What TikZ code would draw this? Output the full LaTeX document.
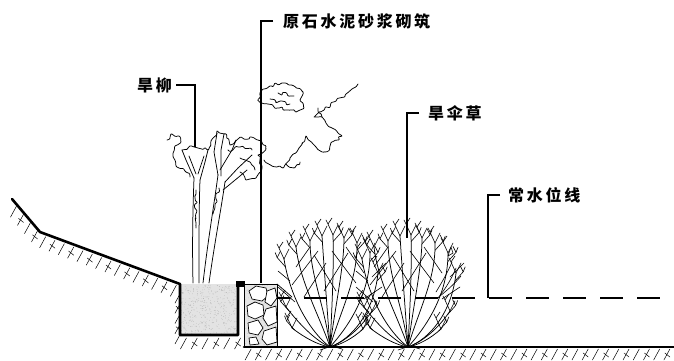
\documentclass[tikz,border=0pt]{standalone}
\usepackage{fontspec}
\newfontfamily\cjk[LetterSpace=17]{Noto Sans CJK SC}
\usetikzlibrary{calc,decorations.pathmorphing}

% short strokes of the earth symbol along a ground edge
\newcommand\earthband[3]{%
  \foreach \i in {1,...,#3}{%
    \pgfmathsetmacro\hf{(\i-0.5)/#3}%
    \coordinate (hp) at ($(#1)!\hf!(#2)$);%
    \draw[hatch] ($(hp)+(1,3)$) -- ++(-6,11);%
    \ifodd\i\relax\else\draw[hatch] ($(hp)+(-4,7)$) -- ++(5,4);\fi
  }}

% one tuft of umbrella sedge, rooted at #1
\newcommand\sedgeclump[1]{%
  \begin{scope}[shift={(#1)}]
    \foreach \ax/\ay/\bx/\by/\ex/\ey in {
      -12/-2/-25/-9/-38/-19,
      -14/-6/-30/-22/-44/-40,
      -20/-15/-40/-50/-46/-88,
      -10/-30/-30/-65/-34/-100,
      -5/-40/-20/-72/-20/-106,
      -3/-40/-6/-80/-8/-111,
      2/-40/4/-80/3/-112,
      5/-40/14/-80/14/-109,
      10/-35/28/-68/27/-104,
      18/-20/40/-52/40/-94,
      22/-8/44/-35/48/-74,
      14/-5/30/-18/42/-36,
      10/-2/22/-8/33/-18}{
      \pgfmathsetmacro\sg{ifthenelse(\ex<0,-1,1)}
      \draw[stem] (0,0) .. controls (\ax,\ay) and (\bx,\by) .. (\ex,\ey);
      \draw[twig] (\ex,\ey) -- ++(-5,-11) -- ++(-2,-4);
      \draw[twig] (\ex,\ey) -- ++(5,-10);
      \draw[twig] ($(\ex,\ey)+(-5,-11)$) -- ++(4,-6);
      \draw[twig] ($(\ex,\ey)!0.2!(\bx,\by)$) -- ++(8*\sg,-9) -- ++(2*\sg,-5);
      \draw[twig] ($(\ex,\ey)!0.2!(\bx,\by)+(8*\sg,-9)$) -- ++(-3*\sg,-6);
    }
    \draw[twig] (-38,-62) -- (-12,-96);
    \draw[twig] (-26,-50) -- (-4,-84);
    \draw[twig] (6,-56) -- (-16,-92);
    \draw[twig] (-6,-56) -- (18,-94);
    \draw[twig] (26,-64) -- (2,-96);
    \draw[twig] (34,-74) -- (16,-100);
    \draw[twig] (-34,-80) -- (-20,-100);
    \draw[twig] (-35,-45) -- (-52,-60);
    \draw[twig] (-40,-66) -- (-52,-76);
    \draw[twig] (34,-48) -- (52,-60);
    \draw[twig] (42,-70) -- (56,-84);
    \draw[twig] (-2,-2) -- (12,2);
    \draw[twig] (2,-1) -- (-10,3);
  \end{scope}}

\begin{document}
\begin{tikzpicture}[x=1pt,y=-1pt,line join=round,line cap=round,
  ground/.style={line width=2.6pt},
  hatch/.style={line width=0.5pt},
  thinline/.style={line width=0.7pt},
  leader/.style={line width=1.4pt,line cap=butt,line join=miter},
  waterline/.style={line width=1.9pt,line cap=butt,dash pattern=on 23pt off 14pt,dash phase=11pt},
  lbl/.style={font=\cjk\bfseries\fontsize{16}{16}\selectfont,anchor=west,inner sep=0pt},
  stem/.style={line width=0.75pt},
  twig/.style={line width=0.6pt},
  leafy/.style={line width=0.75pt,rounded corners=0.8pt,decorate,
    decoration={random steps,segment length=3pt,amplitude=2pt}},
]
\useasboundingbox (0,0) rectangle (674,360);
\pgfmathsetseed{4}

% planting pit with soil
\fill[gray!22] (180,284) rectangle (238,335);
\foreach \k in {1,...,420}
  \fill[gray!65] ({181+56*rnd},{285+49*rnd}) circle (0.33pt);

% rubble stone wall laid in cement mortar
\fill[gray!20] (245,284) rectangle (277,346);
\foreach \k in {1,...,160}
  \fill[gray!60] ({245+32*rnd},{284+62*rnd}) circle (0.33pt);
\begin{scope}[thinline,fill=white]
  \filldraw (249,291) -- (256,286) -- (266,288) -- (268,296) -- (262,301) -- (252,299) -- cycle;
  \filldraw (267,291) -- (275,288) -- (277,298) -- (271,306) -- (265,302) -- cycle;
  \filldraw (247,306) -- (255,302) -- (263,305) -- (264,315) -- (255,319) -- (248,316) -- cycle;
  \filldraw (266,309) -- (276,306) -- (277,322) -- (268,326) -- (263,318) -- cycle;
  \filldraw (248,323) -- (258,320) -- (263,328) -- (258,335) -- (249,333) -- cycle;
  \filldraw (264,331) -- (276,327) -- (277,342) -- (267,345) -- (262,339) -- cycle;
  \filldraw (249,338) -- (256,337) -- (259,344) -- (250,345) -- cycle;
\end{scope}
\draw[thinline] (245,284) -- (277,284) -- (277,347);
\draw[thinline] (277,284) -- (292,297);

% earth hatching below the ground line
\earthband{12,199}{40,232}{4}
\earthband{40,232}{180,284}{15}
\earthband{180,284}{180,335}{5}
\earthband{180,335}{245,335}{6}
\earthband{245,346}{674,346}{42}

% ground line, pit and wall edges
\draw[ground] (12,199) -- (40,232) -- (180,284) -- (180,335) -- (238,335) -- (238,285);
\fill (236,281) rectangle (245,287);
\draw[thinline] (244.5,287) -- (244.5,347);
\draw[ground] (244,347) -- (674,347);

% normal water level
\coordinate (wlStart) at (278,298);
\coordinate (wlEnd) at (674,298);
\draw[waterline] (wlStart) -- (wlEnd);

% willow: trunks
\draw[stem] (193,283) .. controls (192,240) and (193,205) .. (194,178);
\draw[stem] (199,283) .. controls (199,240) and (199,205) .. (200,180);
\draw[stem] (203,283) .. controls (208,240) and (214,205) .. (218,175);
\draw[stem] (209,283) .. controls (215,240) and (221,210) .. (225,182);
\draw[leafy] (196,190) -- (196,228);
\draw[leafy] (219,188) -- (213,214);
% willow: limbs
\draw[stem] (194,178) -- (186,160) -- (182,150);
\draw[stem] (200,180) -- (205,162) -- (208,150);
\draw[stem] (196,174) -- (189,156);
\draw[stem] (198,174) -- (204,156);
\draw[stem] (218,175) -- (214,152) -- (217,133);
\draw[stem] (221,176) -- (221,150) -- (224,134);
\draw[stem] (225,182) -- (238,168) -- (252,155);
\draw[stem] (223,190) -- (240,176) -- (247,170);
\draw[stem] (220,170) -- (232,150) -- (236,140);
% willow: foliage
\draw[leafy] (167,140) -- (171,134) -- (179,136) -- (181,142) -- (175,146) -- (173,156) -- (176,166) -- (186,172) -- (190,177);
\draw[leafy] (182,150) -- (190,146) -- (198,148) -- (208,150) -- (211,141) -- (217,131) -- (226,134) -- (230,145) -- (238,139) -- (250,137) -- (261,141) -- (266,149) -- (258,155) -- (262,166) -- (256,178) -- (246,180) -- (240,172);
\draw[leafy] (228,150) -- (240,147) -- (252,150);
\draw[leafy] (240,158) -- (250,162) -- (255,170);
% willow: windblown sprays
\draw[leafy] (258,100) -- (262,90) -- (270,86) -- (282,83) -- (294,86) -- (303,92) -- (300,100) -- (304,108) -- (296,112) -- (288,110) -- (278,108) -- (268,104) -- cycle;
\draw[leafy] (270,99) -- (290,104);
\draw[leafy] (278,93) -- (294,96);
\draw[leafy] (264,160) -- (272,166) -- (283,168) -- (290,158) -- (299,148) -- (306,136) -- (316,147) -- (326,152) -- (334,141) -- (342,136) -- (332,128) -- (322,117) -- (314,117) -- (324,110) -- (336,101) -- (346,94) -- (352,89) -- (358,84);
\draw[leafy] (286,164) -- (294,168) -- (300,162);
\draw[leafy] (322,117) -- (318,108);

% umbrella sedge
\sedgeclump{330,347}
\sedgeclump{408,347}
\draw[twig] (438,298) .. controls (446,288) and (452,278) .. (456,268);
\draw[twig] (440,296) .. controls (450,288) and (456,282) .. (461,276);
\draw[twig] (436,292) .. controls (442,282) and (448,272) .. (452,262);
\draw[twig] (448,256) -- (451,247) -- (453,253) -- cycle;

% labels and leader lines
\node[lbl] (tWillow) at (137,85) {旱柳};
\node[lbl] (tWall) at (283,21) {原石水泥砂浆砌筑};
\node[lbl] (tSedge) at (428,113) {旱伞草};
\node[lbl] (tWater) at (508,195) {常水位线};
\coordinate (pWillow) at (195,147);
\coordinate (pWall) at (261,283);
\coordinate (pSedge) at (407,238);
\coordinate (pWater) at (488,298);
\draw[leader] ([xshift=4pt]tWillow.east) -| (pWillow);
\draw[leader] ([xshift=-10pt]tWall.west) -| (pWall);
\draw[leader] ([xshift=-9pt]tSedge.west) -| (pSedge);
\draw[leader] ([xshift=-8pt]tWater.west) -| (pWater);
\end{tikzpicture}
\end{document}
